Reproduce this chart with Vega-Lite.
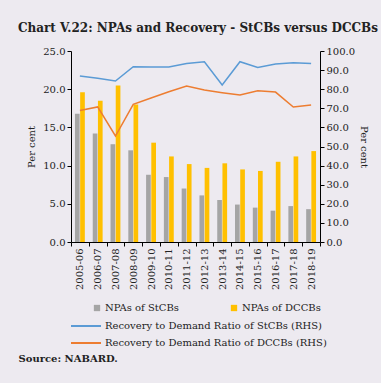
{
  "$schema": "https://vega.github.io/schema/vega-lite/v6.json",
  "autosize": {"type": "none"},
  "width": 249,
  "height": 191,
  "padding": {"left": 71, "top": 51, "right": 61, "bottom": 141},
  "background": "#EDEAF0",
  "title": {
    "text": "Chart V.22: NPAs and Recovery - StCBs versus DCCBs",
    "anchor": "start",
    "frame": "group",
    "dx": -53,
    "offset": 11,
    "font": "DejaVu Serif",
    "fontSize": 12,
    "fontWeight": "bold",
    "color": "#222222"
  },
  "config": {
    "view": {"stroke": null},
    "font": "DejaVu Serif",
    "axis": {
      "grid": false,
      "domainColor": "#000000",
      "tickColor": "#000000",
      "labelFont": "DejaVu Serif",
      "labelFontSize": 10,
      "labelColor": "#222222",
      "titleFont": "DejaVu Serif",
      "titleFontSize": 10,
      "titleFontWeight": "normal",
      "titleColor": "#222222",
      "tickSize": 4,
      "labelPadding": 2
    },
    "legend": {
      "labelFont": "DejaVu Serif",
      "labelFontSize": 10,
      "labelColor": "#222222"
    }
  },
  "datasets": {
    "bars": [
      {"year": "2005-06", "series": "NPAs of StCBs", "value": 16.8},
      {"year": "2006-07", "series": "NPAs of StCBs", "value": 14.2},
      {"year": "2007-08", "series": "NPAs of StCBs", "value": 12.8},
      {"year": "2008-09", "series": "NPAs of StCBs", "value": 12.0},
      {"year": "2009-10", "series": "NPAs of StCBs", "value": 8.8},
      {"year": "2010-11", "series": "NPAs of StCBs", "value": 8.5},
      {"year": "2011-12", "series": "NPAs of StCBs", "value": 7.0},
      {"year": "2012-13", "series": "NPAs of StCBs", "value": 6.1},
      {"year": "2013-14", "series": "NPAs of StCBs", "value": 5.5},
      {"year": "2014-15", "series": "NPAs of StCBs", "value": 4.9},
      {"year": "2015-16", "series": "NPAs of StCBs", "value": 4.5},
      {"year": "2016-17", "series": "NPAs of StCBs", "value": 4.1},
      {"year": "2017-18", "series": "NPAs of StCBs", "value": 4.7},
      {"year": "2018-19", "series": "NPAs of StCBs", "value": 4.3},
      {"year": "2005-06", "series": "NPAs of DCCBs", "value": 19.6},
      {"year": "2006-07", "series": "NPAs of DCCBs", "value": 18.5},
      {"year": "2007-08", "series": "NPAs of DCCBs", "value": 20.5},
      {"year": "2008-09", "series": "NPAs of DCCBs", "value": 18.0},
      {"year": "2009-10", "series": "NPAs of DCCBs", "value": 13.0},
      {"year": "2010-11", "series": "NPAs of DCCBs", "value": 11.2},
      {"year": "2011-12", "series": "NPAs of DCCBs", "value": 10.2},
      {"year": "2012-13", "series": "NPAs of DCCBs", "value": 9.7},
      {"year": "2013-14", "series": "NPAs of DCCBs", "value": 10.3},
      {"year": "2014-15", "series": "NPAs of DCCBs", "value": 9.5},
      {"year": "2015-16", "series": "NPAs of DCCBs", "value": 9.3},
      {"year": "2016-17", "series": "NPAs of DCCBs", "value": 10.5},
      {"year": "2017-18", "series": "NPAs of DCCBs", "value": 11.2},
      {"year": "2018-19", "series": "NPAs of DCCBs", "value": 11.9}
    ],
    "lineSt": [
      {"year": "2005-06", "series": "Recovery to Demand Ratio of StCBs (RHS)", "value": 86.9},
      {"year": "2006-07", "series": "Recovery to Demand Ratio of StCBs (RHS)", "value": 85.7},
      {"year": "2007-08", "series": "Recovery to Demand Ratio of StCBs (RHS)", "value": 84.3},
      {"year": "2008-09", "series": "Recovery to Demand Ratio of StCBs (RHS)", "value": 91.8},
      {"year": "2009-10", "series": "Recovery to Demand Ratio of StCBs (RHS)", "value": 91.6},
      {"year": "2010-11", "series": "Recovery to Demand Ratio of StCBs (RHS)", "value": 91.6},
      {"year": "2011-12", "series": "Recovery to Demand Ratio of StCBs (RHS)", "value": 93.5},
      {"year": "2012-13", "series": "Recovery to Demand Ratio of StCBs (RHS)", "value": 94.4},
      {"year": "2013-14", "series": "Recovery to Demand Ratio of StCBs (RHS)", "value": 82.2},
      {"year": "2014-15", "series": "Recovery to Demand Ratio of StCBs (RHS)", "value": 94.4},
      {"year": "2015-16", "series": "Recovery to Demand Ratio of StCBs (RHS)", "value": 91.4},
      {"year": "2016-17", "series": "Recovery to Demand Ratio of StCBs (RHS)", "value": 93.2},
      {"year": "2017-18", "series": "Recovery to Demand Ratio of StCBs (RHS)", "value": 93.9},
      {"year": "2018-19", "series": "Recovery to Demand Ratio of StCBs (RHS)", "value": 93.5}
    ],
    "lineDc": [
      {"year": "2005-06", "series": "Recovery to Demand Ratio of DCCBs (RHS)", "value": 68.8},
      {"year": "2006-07", "series": "Recovery to Demand Ratio of DCCBs (RHS)", "value": 70.7},
      {"year": "2007-08", "series": "Recovery to Demand Ratio of DCCBs (RHS)", "value": 55.5},
      {"year": "2008-09", "series": "Recovery to Demand Ratio of DCCBs (RHS)", "value": 72.1},
      {"year": "2009-10", "series": "Recovery to Demand Ratio of DCCBs (RHS)", "value": 75.4},
      {"year": "2010-11", "series": "Recovery to Demand Ratio of DCCBs (RHS)", "value": 78.7},
      {"year": "2011-12", "series": "Recovery to Demand Ratio of DCCBs (RHS)", "value": 81.7},
      {"year": "2012-13", "series": "Recovery to Demand Ratio of DCCBs (RHS)", "value": 79.6},
      {"year": "2013-14", "series": "Recovery to Demand Ratio of DCCBs (RHS)", "value": 78.2},
      {"year": "2014-15", "series": "Recovery to Demand Ratio of DCCBs (RHS)", "value": 77.0},
      {"year": "2015-16", "series": "Recovery to Demand Ratio of DCCBs (RHS)", "value": 79.2},
      {"year": "2016-17", "series": "Recovery to Demand Ratio of DCCBs (RHS)", "value": 78.5},
      {"year": "2017-18", "series": "Recovery to Demand Ratio of DCCBs (RHS)", "value": 70.7},
      {"year": "2018-19", "series": "Recovery to Demand Ratio of DCCBs (RHS)", "value": 71.7}
    ]
  },
  "encoding": {
    "x": {
      "field": "year",
      "type": "nominal",
      "scale": {"paddingInner": 0, "paddingOuter": 0},
      "axis": {
        "labelAngle": -90,
        "tickBand": "extent",
        "title": "Source: NABARD.",
        "titleX": -53,
        "titleY": 116,
        "titleAlign": "left",
        "titleBaseline": "middle",
        "titleAngle": 0,
        "titleFontWeight": "bold",
        "titleFontSize": 10
      }
    }
  },
  "layer": [
    {
      "data": {"name": "bars"},
      "mark": {"type": "bar"},
      "encoding": {
        "xOffset": {
          "field": "series",
          "type": "nominal",
          "scale": {"domain": ["NPAs of StCBs", "NPAs of DCCBs"], "paddingInner": 0.1, "paddingOuter": 0.76}
        },
        "y": {
          "field": "value",
          "type": "quantitative",
          "scale": {"domain": [0, 25]},
          "axis": {"values": [0, 5, 10, 15, 20, 25], "format": ".1f", "title": "Per cent", "titlePadding": 6}
        },
        "fill": {
          "field": "series",
          "type": "nominal",
          "scale": {"domain": ["NPAs of StCBs", "NPAs of DCCBs"], "range": ["#A5A5A5", "#FFC000"]},
          "legend": {
            "title": null,
            "orient": "none",
            "legendX": 21,
            "legendY": 252,
            "direction": "horizontal",
            "columns": 2,
            "columnPadding": 50,
            "symbolType": "square",
            "symbolSize": 40,
            "symbolStrokeWidth": 0,
            "labelOffset": 3
          }
        }
      }
    },
    {
      "encoding": {
        "y": {
          "field": "value",
          "type": "quantitative",
          "scale": {"domain": [0, 100]},
          "axis": {"orient": "right", "values": [0, 10, 20, 30, 40, 50, 60, 70, 80, 90, 100], "format": ".1f", "title": "Per cent", "titlePadding": 4}
        }
      },
      "layer": [
        {
          "data": {"name": "lineSt"},
          "mark": {"type": "line", "strokeWidth": 1.5},
          "encoding": {
            "stroke": {
              "field": "series",
              "type": "nominal",
              "scale": {"range": ["#5B9BD5"]},
              "legend": {
                "title": null,
                "orient": "none",
                "legendX": -1,
                "legendY": 259,
                "symbolType": "stroke",
                "symbolSize": 900,
                "symbolStrokeWidth": 2,
                "labelOffset": 3,
                "labelLimit": 300
              }
            }
          }
        },
        {
          "data": {"name": "lineDc"},
          "mark": {"type": "line", "strokeWidth": 1.5},
          "encoding": {
            "color": {
              "field": "series",
              "type": "nominal",
              "scale": {"range": ["#ED7D31"]},
              "legend": {
                "title": null,
                "orient": "none",
                "legendX": -1,
                "legendY": 276,
                "symbolType": "stroke",
                "symbolSize": 900,
                "symbolStrokeWidth": 2,
                "labelOffset": 3,
                "labelLimit": 300
              }
            }
          }
        }
      ]
    }
  ],
  "resolve": {"scale": {"y": "independent"}}
}
